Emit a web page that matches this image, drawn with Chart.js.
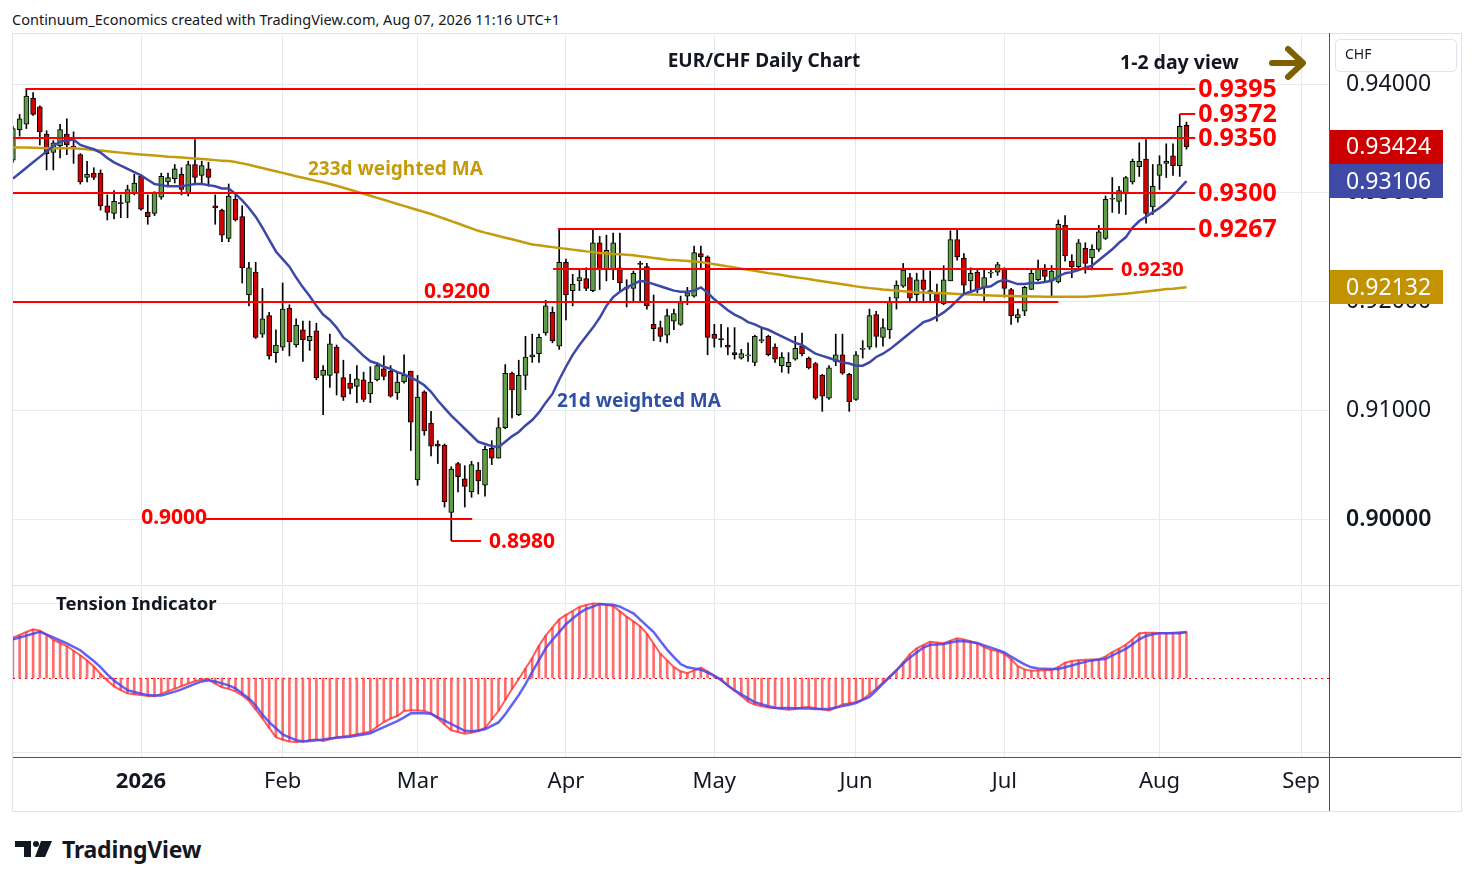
<!DOCTYPE html>
<html>
<head>
<meta charset="utf-8">
<title>EUR/CHF Daily Chart</title>
<script src="https://cdn.jsdelivr.net/npm/chart.js@4.4.1/dist/chart.umd.min.js"></script>
<style>
  html, body { margin:0; padding:0; background:#ffffff; }
  #wrap { position:relative; width:1474px; height:887px; overflow:hidden; background:#fff; font-family:"Noto Sans", sans-serif; color:#131722; }
  #header { position:absolute; left:12px; top:9px; font-size:14.5px; line-height:20px; white-space:nowrap; }
  #frame { position:absolute; left:12px; top:33px; width:1450px; height:779px; border:1px solid #e0e3eb; box-sizing:border-box; pointer-events:none; }
  .ln { position:absolute; pointer-events:none; }
  canvas { position:absolute; left:0; }
  #logo { position:absolute; left:15px; top:837px; display:flex; align-items:center; }
  #logo span { font-size:23px; font-weight:700; margin-left:9px; letter-spacing:-0.2px; color:#131722; line-height:24px; }
</style>
</head>
<body>
<div id="wrap">
  <div id="header">Continuum_Economics created with TradingView.com, Aug 07, 2026 11:16 UTC+1</div>
  <canvas id="main" width="1474" height="620" style="top:0px"></canvas>
  <canvas id="tension" width="1474" height="226" style="top:586px"></canvas>
  <div id="frame"></div>
  <div class="ln" style="left:13px;top:585px;width:1448px;height:1px;background:#e0e3eb"></div>
  <div class="ln" style="left:13px;top:757px;width:1448px;height:1px;background:#50535e"></div>
  <div class="ln" style="left:1329px;top:33px;width:1px;height:778px;background:#50535e"></div>
  <div id="logo">
    <svg width="38" height="18" viewBox="0 0 38 18"><rect x="0" y="1" width="16" height="6" fill="#131722"/><rect x="9" y="1" width="7" height="16" fill="#131722"/><circle cx="21" cy="4" r="3" fill="#131722"/><polygon points="26,1 37,1 30,17 20,17" fill="#131722"/></svg>
    <span>TradingView</span>
  </div>
</div>
<script>
// ---------------- data ----------------
const FIRST_INDEX = -19; // bar index of the first candle (index 0 = 2 Jan 2026)
const monthLabels = ['2026','Feb','Mar','Apr','May','Jun','Jul','Aug','Sep'];
const monthStartIndex = [0,21,41,63,85,106,128,151,172];
const priceTicks = [0.90,0.91,0.92,0.93,0.94];

const opens = [0.9330,0.9358,0.9363,0.9387,0.9379,0.9354,0.9337,0.9343,0.9354,0.9343,
 0.9335,0.9314,0.9318,0.9318,0.9288,0.9281,0.9291,0.9291,0.9300,
 0.9315,0.9282,0.9281,0.9296,0.9310,0.9313,0.9317,0.9300,0.9326,0.9316,
 0.9322,0.9288,0.9284,0.9258,0.9294,0.9278,0.9206,0.9227,0.9170,0.9187,
 0.9153,0.9158,0.9194,0.9160,0.9174,0.9164,0.9173,0.9132,0.9132,0.9158,
 0.9130,0.9125,0.9122,0.9128,0.9115,0.9128,0.9138,0.9136,0.9116,0.9126,
 0.9136,0.9036,0.9117,0.9088,0.9069,0.9068,0.9006,0.9051,0.9037,0.9025,
 0.9045,0.9031,0.9065,0.9056,0.9084,0.9134,0.9096,0.9132,0.9149,0.9152,
 0.9171,0.9190,0.9159,0.9236,0.9210,0.9219,0.9221,0.9210,0.9254,0.9230,
 0.9230,0.9231,0.9213,0.9212,0.9234,0.9232,0.9179,0.9176,0.9169,0.9182,
 0.9179,0.9205,0.9205,0.9244,0.9241,0.9170,0.9166,0.9160,0.9153,0.9148,
 0.9150,0.9144,0.9164,0.9168,0.9158,0.9141,0.9140,0.9147,0.9159,0.9148,
 0.9143,0.9132,0.9111,0.9145,0.9151,0.9133,0.9110,0.9156,0.9158,0.9188,
 0.9167,0.9174,0.9203,0.9214,0.9222,0.9206,0.9220,0.9210,0.9208,0.9198,
 0.9219,0.9257,0.9240,0.9219,0.9227,0.9213,0.9226,0.9227,0.9230,0.9211,
 0.9185,0.9191,0.9211,0.9220,0.9229,0.9219,0.9218,0.9270,0.9237,0.9232,
 0.9249,0.9240,0.9248,0.9258,0.9294,0.9292,0.9299,0.9310,0.9324,0.9331,
 0.9287,0.9316,0.9327,0.9334,0.9325,0.9362];

const highs = [0.9361,0.9372,0.9396,0.9392,0.9380,0.9357,0.9348,0.9363,0.9368,0.9356,
 0.9336,0.9329,0.9323,0.9321,0.9298,0.9302,0.9298,0.9307,0.9317,
 0.9317,0.9298,0.9301,0.9318,0.9318,0.9326,0.9323,0.9329,0.9349,0.9329,
 0.9328,0.9298,0.9285,0.9308,0.9300,0.9288,0.9236,0.9236,0.9212,0.9190,
 0.9174,0.9217,0.9197,0.9184,0.9182,0.9182,0.9180,0.9141,0.9170,0.9160,
 0.9146,0.9133,0.9141,0.9135,0.9140,0.9144,0.9150,0.9141,0.9134,0.9151,
 0.9136,0.9132,0.9118,0.9099,0.9072,0.9069,0.9048,0.9052,0.9049,0.9053,
 0.9052,0.9067,0.9072,0.9093,0.9142,0.9135,0.9146,0.9168,0.9170,0.9170,
 0.9201,0.9195,0.9267,0.9239,0.9225,0.9230,0.9231,0.9266,0.9260,0.9261,
 0.9263,0.9263,0.9220,0.9228,0.9237,0.9235,0.9206,0.9182,0.9193,0.9193,
 0.9205,0.9213,0.9251,0.9251,0.9242,0.9179,0.9179,0.9176,0.9176,0.9156,
 0.9162,0.9169,0.9176,0.9169,0.9161,0.9153,0.9153,0.9168,0.9171,0.9149,
 0.9144,0.9133,0.9141,0.9170,0.9170,0.9134,0.9154,0.9164,0.9193,0.9191,
 0.9184,0.9204,0.9219,0.9235,0.9226,0.9226,0.9229,0.9228,0.9216,0.9233,
 0.9265,0.9267,0.9244,0.9231,0.9230,0.9230,0.9229,0.9236,0.9231,0.9212,
 0.9193,0.9214,0.9229,0.9238,0.9234,0.9233,0.9275,0.9279,0.9243,0.9257,
 0.9254,0.9252,0.9270,0.9297,0.9314,0.9306,0.9315,0.9331,0.9346,0.9349,
 0.9326,0.9334,0.9345,0.9345,0.9372,0.9365];

const lows = [0.9328,0.9352,0.9359,0.9371,0.9344,0.9321,0.9321,0.9332,0.9335,0.9327,
 0.9308,0.9310,0.9312,0.9284,0.9275,0.9276,0.9277,0.9277,0.9298,
 0.9284,0.9271,0.9279,0.9294,0.9306,0.9309,0.9298,0.9297,0.9309,0.9309,
 0.9306,0.9271,0.9255,0.9255,0.9274,0.9217,0.9196,0.9166,0.9167,0.9147,
 0.9144,0.9155,0.9150,0.9158,0.9145,0.9155,0.9128,0.9096,0.9121,0.9114,
 0.9109,0.9115,0.9107,0.9108,0.9107,0.9127,0.9128,0.9112,0.9110,0.9125,
 0.9063,0.9031,0.9077,0.9058,0.9051,0.9011,0.8980,0.9025,0.9011,0.9020,
 0.9023,0.9021,0.9050,0.9056,0.9083,0.9093,0.9095,0.9119,0.9144,0.9144,
 0.9169,0.9162,0.9156,0.9183,0.9196,0.9210,0.9210,0.9209,0.9211,0.9219,
 0.9220,0.9209,0.9195,0.9199,0.9200,0.9193,0.9164,0.9163,0.9162,0.9174,
 0.9178,0.9197,0.9204,0.9231,0.9151,0.9158,0.9158,0.9151,0.9147,0.9147,
 0.9145,0.9141,0.9162,0.9150,0.9144,0.9135,0.9134,0.9146,0.9150,0.9138,
 0.9110,0.9099,0.9110,0.9141,0.9133,0.9099,0.9109,0.9148,0.9156,0.9158,
 0.9159,0.9166,0.9193,0.9213,0.9200,0.9200,0.9200,0.9200,0.9182,0.9197,
 0.9219,0.9238,0.9208,0.9208,0.9208,0.9199,0.9222,0.9224,0.9204,0.9179,
 0.9181,0.9187,0.9211,0.9219,0.9219,0.9205,0.9217,0.9237,0.9222,0.9230,
 0.9226,0.9229,0.9246,0.9257,0.9282,0.9281,0.9280,0.9308,0.9315,0.9272,
 0.9280,0.9303,0.9314,0.9316,0.9315,0.9340];

const closes = [0.9359,0.9368,0.9389,0.9372,0.9356,0.9336,0.9346,0.9358,0.9344,0.9342,
 0.9310,0.9317,0.9314,0.9288,0.9282,0.9292,0.9290,0.9303,0.9309,
 0.9285,0.9278,0.9300,0.9315,0.9314,0.9322,0.9303,0.9326,0.9314,0.9325,
 0.9314,0.9286,0.9261,0.9297,0.9275,0.9231,0.9231,0.9167,0.9184,0.9150,
 0.9160,0.9193,0.9163,0.9178,0.9165,0.9168,0.9130,0.9137,0.9161,0.9134,
 0.9112,0.9120,0.9129,0.9110,0.9126,0.9141,0.9131,0.9113,0.9126,0.9132,
 0.9089,0.9112,0.9081,0.9067,0.9067,0.9016,0.9046,0.9039,0.9030,0.9050,
 0.9035,0.9064,0.9056,0.9084,0.9134,0.9119,0.9132,0.9149,0.9151,0.9167,
 0.9196,0.9164,0.9236,0.9206,0.9216,0.9222,0.9212,0.9254,0.9229,0.9247,
 0.9254,0.9217,0.9212,0.9226,0.9235,0.9196,0.9175,0.9168,0.9187,0.9189,
 0.9199,0.9208,0.9245,0.9241,0.9167,0.9166,0.9165,0.9158,0.9151,0.9152,
 0.9150,0.9168,0.9164,0.9151,0.9147,0.9149,0.9144,0.9157,0.9152,0.9139,
 0.9111,0.9113,0.9139,0.9151,0.9134,0.9108,0.9151,0.9157,0.9187,0.9168,
 0.9176,0.9200,0.9215,0.9229,0.9203,0.9220,0.9211,0.9207,0.9199,0.9220,
 0.9257,0.9241,0.9215,0.9226,0.9211,0.9222,0.9227,0.9234,0.9212,0.9187,
 0.9188,0.9213,0.9226,0.9230,0.9223,0.9228,0.9271,0.9242,0.9232,0.9254,
 0.9235,0.9248,0.9264,0.9294,0.9294,0.9302,0.9314,0.9329,0.9329,0.9281,
 0.9306,0.9326,0.9329,0.9325,0.9361,0.93424];

const ma21 = [0.9313,0.9318,0.9323,0.9328,0.9333,0.9338,0.9343,0.9347,0.9348,0.9349,
 0.9344,0.9342,0.9340,0.9337,0.9332,0.9328,0.9325,0.9322,0.9319,
 0.9316,0.9312,0.9308,0.9307,0.9306,0.9306,0.9306,0.9307,0.9308,0.9308,
 0.9307,0.9306,0.9304,0.9304,0.9299,0.9293,0.9286,0.9278,0.9268,0.9257,
 0.9246,0.9239,0.9232,0.9222,0.9213,0.9205,0.9196,0.9188,0.9183,0.9176,
 0.9167,0.9162,0.9156,0.9150,0.9145,0.9143,0.9140,0.9138,0.9135,0.9133,
 0.9130,0.9127,0.9123,0.9117,0.9109,0.9102,0.9095,0.9089,0.9083,0.9077,
 0.9071,0.9069,0.9067,0.9066,0.9071,0.9076,0.9080,0.9086,0.9091,0.9098,
 0.9107,0.9115,0.9128,0.9140,0.9151,0.9160,0.9168,0.9176,0.9185,0.9196,
 0.9204,0.9209,0.9213,0.9216,0.9219,0.9218,0.9216,0.9214,0.9212,0.9210,
 0.9209,0.9209,0.9210,0.9213,0.9208,0.9202,0.9197,0.9192,0.9188,0.9185,
 0.9181,0.9179,0.9176,0.9174,0.9171,0.9168,0.9165,0.9162,0.9160,0.9156,
 0.9152,0.9150,0.9148,0.9146,0.9144,0.9143,0.9141,0.9141,0.9144,0.9149,
 0.9152,0.9156,0.9161,0.9166,0.9171,0.9176,0.9181,0.9183,0.9186,0.9190,
 0.9195,0.9201,0.9207,0.9209,0.9211,0.9213,0.9214,0.9218,0.9220,0.9218,
 0.9216,0.9216,0.9217,0.9217,0.9218,0.9219,0.9223,0.9226,0.9227,0.9229,
 0.9231,0.9233,0.9238,0.9243,0.9248,0.9254,0.9259,0.9268,0.9274,0.9278,
 0.9282,0.9286,0.9291,0.9297,0.9304,0.93106];

const ma233 = [0.93419,0.93417,0.93416,0.93413,0.93411,0.93410,0.93410,0.93410,0.93410,0.93410,
 0.93405,0.93399,0.93394,0.93388,0.93382,0.93375,0.93369,0.93363,0.93357,
 0.93352,0.93347,0.93342,0.93338,0.93332,0.93328,0.93324,0.93319,0.93315,0.93311,
 0.93306,0.93300,0.93295,0.93291,0.93283,0.93270,0.93257,0.93242,0.93228,0.93212,
 0.93197,0.93183,0.93168,0.93152,0.93138,0.93124,0.93109,0.93096,0.93081,0.93064,
 0.93046,0.93028,0.93009,0.92991,0.92972,0.92953,0.92935,0.92916,0.92897,0.92879,
 0.92860,0.92841,0.92823,0.92805,0.92783,0.92761,0.92739,0.92717,0.92694,0.92672,
 0.92650,0.92633,0.92618,0.92603,0.92587,0.92572,0.92556,0.92540,0.92525,0.92517,
 0.92508,0.92500,0.92493,0.92484,0.92477,0.92470,0.92461,0.92454,0.92446,0.92442,
 0.92437,0.92434,0.92429,0.92425,0.92417,0.92409,0.92401,0.92393,0.92385,0.92381,
 0.92376,0.92372,0.92368,0.92363,0.92353,0.92343,0.92334,0.92323,0.92313,0.92302,
 0.92292,0.92282,0.92272,0.92261,0.92252,0.92243,0.92233,0.92224,0.92215,0.92206,
 0.92195,0.92186,0.92177,0.92168,0.92159,0.92149,0.92139,0.92130,0.92123,0.92117,
 0.92110,0.92106,0.92100,0.92095,0.92090,0.92085,0.92083,0.92081,0.92078,0.92076,
 0.92073,0.92070,0.92067,0.92064,0.92061,0.92058,0.92056,0.92054,0.92052,0.92050,
 0.92049,0.92048,0.92046,0.92045,0.92044,0.92043,0.92043,0.92043,0.92043,0.92043,
 0.92044,0.92049,0.92053,0.92057,0.92061,0.92066,0.92072,0.92079,0.92085,0.92091,
 0.92098,0.92106,0.92115,0.92118,0.92125,0.92132];

const tensionFast = [40.5,43,46,48.7,47.2,43.6,38,35,32,27.3,
 22.8,17.6,11.5,4,-2.4,-8.4,-12.2,-15.4,-16.3,
 -17.1,-18,-18.3,-15.9,-13.2,-10.7,-8.1,-5.5,-3.3,-1.6,
 -1.4,-5.7,-9.2,-10.9,-13.3,-17.4,-22.8,-31.6,-40.4,-49.9,
 -59.2,-61.8,-63.5,-64.1,-63.6,-61.9,-61.6,-63,-61.2,-59.3,
 -58.4,-57.4,-56.3,-55,-53.5,-48.8,-44,-40.5,-38,-33,
 -32.3,-32.6,-32.9,-35.4,-40.5,-46.5,-52.3,-54,-55.7,-54.8,
 -53,-50,-41.5,-33,-22,-11,-1,9.5,20,32.4,
 42.5,50.6,58.7,63.2,67,71,73,74.6,74.2,73.1,
 72,66.6,61.4,56.6,51.7,44.3,34.3,24.3,17.6,10.8,
 6.7,4.9,7.6,10.3,6.7,2.3,-2.5,-7.2,-12.5,-18.1,
 -23.7,-26.5,-28.2,-29.5,-30.3,-31.1,-31.8,-31,-29.6,-29,
 -30.3,-31.4,-32.5,-29.8,-26.4,-25.2,-24.3,-21.5,-16,-10.7,
 -4.6,1.4,7.7,15.8,23.9,29.7,33,36.3,35.5,34.8,
 37.4,39.6,38.4,36.8,34.3,31,28.1,26.9,24.1,18.8,
 11.8,8.6,7.3,7.5,7.7,7.9,11,15.3,17,17.8,
 18.2,18.4,18.6,21.6,25.8,29.4,33.2,38.8,44.7,45.3,
 45.3,45,44.7,45.2,45.8,46.3];

const tensionSlow = [38.6,40.5,42.4,44.3,46.2,43.4,40.5,37.5,34.6,31.2,
 27.8,22.3,17,10.9,3.7,-2.5,-7.6,-12.2,-14,
 -15.6,-17.1,-17.6,-17.6,-15.6,-13.6,-11.4,-8.6,-5.8,-3.4,
 -2.2,-3.5,-5.4,-7.4,-10.3,-15.4,-20.4,-27.5,-36.7,-44.2,
 -50.3,-56.4,-59.4,-62.1,-63.5,-62.9,-62.3,-61.5,-60.4,-59.8,
 -59.2,-58.7,-57.5,-56.4,-55.2,-52.2,-49.2,-46.2,-43.2,-39.3,
 -35.3,-35.3,-35.3,-35.8,-39.3,-42.6,-46,-49.4,-52.8,-53.2,
 -52.5,-51.2,-47.8,-44.4,-36.3,-26.7,-17.1,-6.2,6,17.9,
 29.7,38.2,45.9,53.8,59.5,64.9,69,71.4,73.9,73.6,
 73.2,71.4,68,64.6,58.4,52.2,45.9,37.1,28.4,20.8,
 14,10.7,9.6,8.3,5.3,2.2,-1.6,-7.6,-12.4,-16.4,
 -20.3,-24.1,-26.2,-28.2,-29.7,-29.9,-30,-30.2,-30.4,-30.6,
 -30.9,-31.1,-31,-29.5,-28.1,-26.8,-25,-21.9,-18.9,-12.5,
 -5.7,1,7.7,14.5,20.4,25.5,30.5,33.2,33.6,34.1,
 35.4,36.7,36.8,36.1,35.1,32.6,30.4,28.1,25.6,21.3,
 17.4,13.7,10.7,9.5,9.2,8.9,9,10.8,12.5,14.5,
 16.1,17.6,18.6,19.1,22.5,25.9,29.2,33.7,38.7,42,
 43.8,44.7,44.7,44.7,44.7,45.7];

const levelValues = [0.9395,0.9372,0.9350,0.9300,0.9267,0.9230,0.9200,0.9000,0.8980];
const levelLabels = ['0.9395','0.9372','0.9350','0.9300','0.9267','0.9230','0.9200','0.9000','0.8980'];

// ---------------- layout / style ----------------
const X_MIN = -18.98, X_MAX = 176.13;
const Y_MIN = 0.893931, Y_MAX = 0.944506;
const T_MIN = -79, T_MAX = 91;
const UP = '#5f9e46', DOWN = '#d00000';
const GRID = '#e5e9f0';
const FONT = '"Noto Sans", sans-serif';
Chart.defaults.font.family = FONT;

const N = Math.min(opens.length, highs.length, lows.length, closes.length);
const barX = k => FIRST_INDEX + k;
const series = arr => arr.map((v, k) => ({x: barX(k), y: v}));
const wickData = highs.slice(0, N).map((h, k) => ({x: barX(k), y: [lows[k], h]}));
const bodyData = opens.slice(0, N).map((o, k) => ({x: barX(k), y: [o, closes[k]]}));
const bodyColors = opens.slice(0, N).map((o, k) => closes[k] >= o ? UP : DOWN);

// level-line extents in bar-index units (null = from left edge)
const levelLayout = [
  {from: -17,  to: 156.3, pos: 'right', size: 25, gap: 3},
  {from: 154,  to: 156.3, pos: 'right', size: 25, gap: 3},
  {from: null, to: 156.3, pos: 'right', size: 25, gap: 3},
  {from: null, to: 156.3, pos: 'right', size: 25, gap: 3},
  {from: 61.8, to: 156.3, pos: 'right', size: 25, gap: 3},
  {from: 61.1, to: 144.1, pos: 'right', size: 20, gap: 8},
  {from: null, to: 136,   pos: 'above', size: 21, at: 41.96},
  {from: 9.5,  to: 49.1,  pos: 'left',  size: 21},
  {from: 46,   to: 50.4,  pos: 'right', size: 21, gap: 8}
];

const mainOverlay = {
  id: 'mainOverlay',
  afterDatasetsDraw(chart) {
    const {ctx, chartArea: a, scales: {x, y}} = chart;
    ctx.save();
    levelValues.forEach((v, k) => {
      const L = levelLayout[k];
      const yy = Math.round(y.getPixelForValue(v));
      const x0 = L.from === null ? a.left : x.getPixelForValue(L.from);
      const x1 = x.getPixelForValue(L.to);
      ctx.strokeStyle = '#ff0000'; ctx.lineWidth = 2;
      ctx.beginPath(); ctx.moveTo(x0, yy); ctx.lineTo(x1, yy); ctx.stroke();
      ctx.fillStyle = '#ff0000';
      ctx.font = 'bold ' + L.size + 'px ' + FONT;
      ctx.textBaseline = 'middle';
      if (L.pos === 'right') { ctx.textAlign = 'left'; ctx.fillText(levelLabels[k], x1 + L.gap, yy + 1); }
      else if (L.pos === 'left') { ctx.textAlign = 'right'; ctx.fillText(levelLabels[k], x0 + 2, yy - 1); }
      else { ctx.textAlign = 'left'; ctx.fillText(levelLabels[k], x.getPixelForValue(L.at), yy - 10); }
    });
    // texts
    ctx.textBaseline = 'middle';
    ctx.fillStyle = '#131722';
    ctx.font = 'bold 19px ' + FONT;
    ctx.textAlign = 'center';
    ctx.fillText('EUR/CHF Daily Chart', 764, 62);
    ctx.textAlign = 'left';
    ctx.font = 'bold 19.5px ' + FONT;
    ctx.fillText('1-2 day view', 1120, 63);
    ctx.fillStyle = '#c59a0b';
    ctx.font = 'bold 19px ' + FONT;
    ctx.fillText('233d weighted MA', 308, 170);
    ctx.fillStyle = '#2f50a5';
    ctx.fillText('21d weighted MA', 557, 402);
    // arrow
    ctx.strokeStyle = '#7f6000'; ctx.lineWidth = 6; ctx.lineCap = 'round'; ctx.lineJoin = 'round';
    ctx.beginPath(); ctx.moveTo(1272, 63); ctx.lineTo(1302, 63); ctx.stroke();
    ctx.beginPath(); ctx.moveTo(1288, 49); ctx.lineTo(1303, 63); ctx.lineTo(1288, 77); ctx.stroke();
    ctx.restore();
  },
  afterDraw(chart) {
    const {ctx, chartArea: a, scales: {y}} = chart;
    ctx.save();
    const badges = [[closes[N - 1], '#cc0000'], [ma21[ma21.length - 1], '#3f4aa6'], [ma233[ma233.length - 1], '#c29200']];
    badges.forEach(([v, col]) => {
      const yy = y.getPixelForValue(v);
      ctx.fillStyle = col;
      ctx.fillRect(a.right, Math.round(yy - 17), 114, 34);
      ctx.fillStyle = '#ffffff';
      ctx.font = '23px ' + FONT;
      ctx.textAlign = 'left'; ctx.textBaseline = 'middle';
      ctx.fillText(v.toFixed(5), a.right + 17, yy + 1);
    });
    // currency box
    ctx.fillStyle = '#ffffff'; ctx.strokeStyle = '#e0e3eb'; ctx.lineWidth = 1;
    ctx.beginPath(); ctx.roundRect(1335.5, 39.5, 121, 32, 4); ctx.fill(); ctx.stroke();
    ctx.fillStyle = '#131722'; ctx.font = '14px ' + FONT; ctx.textAlign = 'left'; ctx.textBaseline = 'middle';
    ctx.fillText('CHF', 1345, 55);
    ctx.restore();
  }
};

// canvas is 620 tall; bottom padding 35 puts the plot bottom at y=585 (y-axis label padding needs ~31px)
new Chart(document.getElementById('main'), {
  type: 'bar',
  data: {datasets: [
    {type: 'line', label: '21d weighted MA', data: series(ma21), borderColor: '#3d47a8', borderWidth: 2.5, pointRadius: 0, order: 0},
    {type: 'line', label: '233d weighted MA', data: series(ma233), borderColor: '#c59a0b', borderWidth: 2.5, pointRadius: 0, order: 1},
    {type: 'bar', label: 'body', data: bodyData, backgroundColor: bodyColors, borderColor: '#000000', borderWidth: 1, borderSkipped: false, barThickness: 5, minBarLength: 1, grouped: false, order: 2},
    {type: 'bar', label: 'wick', data: wickData, backgroundColor: '#000000', barThickness: 1, grouped: false, order: 3}
  ]},
  options: {
    responsive: false, animation: false, events: [],
    layout: {padding: {left: 13, right: 13, top: 35, bottom: 35}},
    plugins: {legend: {display: false}, tooltip: {enabled: false}},
    scales: {
      x: {type: 'linear', bounds: 'data', min: X_MIN, max: X_MAX, offset: false,
          afterBuildTicks: s => { s.ticks = monthStartIndex.map(v => ({value: v})); },
          ticks: {display: false}, grid: {color: GRID, drawTicks: false, offset: false}, border: {display: false},
          afterFit: s => { s.height = 0; }},
      y: {type: 'linear', position: 'right', bounds: 'data', min: Y_MIN, max: Y_MAX,
          afterBuildTicks: s => { s.ticks = priceTicks.map(v => ({value: v})); },
          ticks: {callback: v => Number(v).toFixed(5), color: '#131722', padding: 17,
                  font: c => ({size: 23, weight: (c.tick && Math.abs(c.tick.value - 0.90) < 1e-9) ? '600' : 'normal'})},
          grid: {color: GRID, drawTicks: false}, border: {display: false},
          afterFit: s => { s.width = 132; }}
    }
  },
  plugins: [mainOverlay]
});

const tensionOverlay = {
  id: 'tensionOverlay',
  beforeDatasetsDraw(chart) {
    const {ctx, chartArea: a, scales: {y}} = chart;
    const yy = Math.round(y.getPixelForValue(0)) + 0.5;
    ctx.save();
    ctx.strokeStyle = '#ff0000'; ctx.lineWidth = 1.2; ctx.setLineDash([2, 4]);
    ctx.beginPath(); ctx.moveTo(a.left, yy); ctx.lineTo(a.right, yy); ctx.stroke();
    ctx.restore();
  },
  afterDraw(chart) {
    const {ctx} = chart;
    ctx.save();
    ctx.fillStyle = '#131722'; ctx.font = 'bold 18.5px ' + FONT;
    ctx.textAlign = 'left'; ctx.textBaseline = 'middle';
    ctx.fillText('Tension Indicator', 56, 19);
    ctx.restore();
  }
};

new Chart(document.getElementById('tension'), {
  type: 'bar',
  data: {datasets: [
    {type: 'line', label: 'slow', data: series(tensionSlow), borderColor: 'rgba(70,70,240,0.85)', borderWidth: 2.5, pointRadius: 0, order: 0},
    {type: 'line', label: 'fast', data: series(tensionFast), borderColor: 'rgba(255,50,50,0.8)', borderWidth: 2, pointRadius: 0, order: 1},
    {type: 'bar', label: 'hist', data: tensionFast.map((v, k) => ({x: barX(k), y: [0, v]})), backgroundColor: 'rgba(255,60,60,0.75)', barThickness: 2, grouped: false, order: 2}
  ]},
  options: {
    responsive: false, animation: false, events: [],
    layout: {padding: {left: 13, right: 13, top: 1, bottom: 1}},
    plugins: {legend: {display: false}, tooltip: {enabled: false}},
    scales: {
      x: {type: 'linear', bounds: 'data', min: X_MIN, max: X_MAX, offset: false,
          afterBuildTicks: s => { s.ticks = monthStartIndex.map(v => ({value: v})); },
          ticks: {autoSkip: false, maxRotation: 0, padding: 12, color: '#131722',
                  callback: v => { const i = monthStartIndex.indexOf(v); return i < 0 ? '' : monthLabels[i]; },
                  font: c => ({size: 22, weight: c.index === 0 ? 'bold' : 'normal'})},
          grid: {color: GRID, drawTicks: false, offset: false}, border: {display: false},
          afterFit: s => { s.height = 54; }},
      y: {type: 'linear', position: 'right', bounds: 'data', min: T_MIN, max: T_MAX,
          afterBuildTicks: s => { s.ticks = [{value: -74}, {value: 74}]; },
          ticks: {display: false}, grid: {color: GRID, drawTicks: false}, border: {display: false},
          afterFit: s => { s.width = 132; }}
    }
  },
  plugins: [tensionOverlay]
});
</script>
</body>
</html>
